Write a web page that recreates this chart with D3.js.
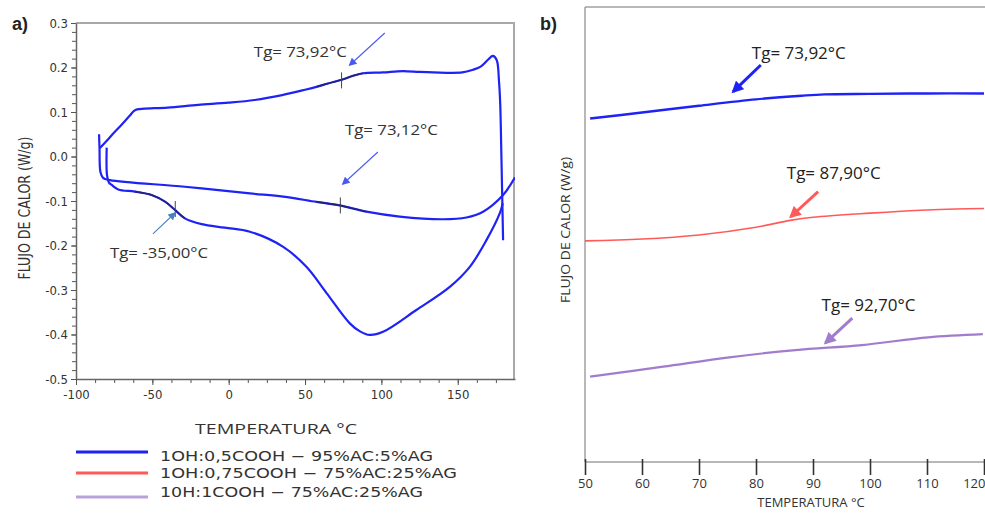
<!DOCTYPE html>
<html lang="es">
<head>
<meta charset="UTF-8">
<title>DSC - Flujo de calor</title>
<script src="https://d3js.org/d3.v7.min.js"></script>
<style>
  body { margin: 0; background: #fff; }
  svg { display: block; }
  .narrow { font-family: "Liberation Sans Narrow", "Arial Narrow", "DejaVu Sans Condensed", sans-serif; }
  .sans { font-family: "Open Sans", "DejaVu Sans", sans-serif; }
</style>
</head>
<body>
<svg id="chart" width="985" height="513"></svg>
<script>
// ---- panel a) : full DSC run (1st heating, cooling, 2nd heating) ----
const heat1T = [-79.9, -79.7, -78.5, -76.6, -72.3, -61.4, -50.5, -41.7, -35.2, -28.7, -17.7, -2.5, 13.9, 35.7, 50.9, 64.1, 79.3, 86, 92.4, 101.1, 122.9, 144.8, 157.9, 168.8, 177.5, 179.5];
const heat1Q = [0.020, -0.042, -0.058, -0.064, -0.074, -0.079, -0.0865, -0.1015, -0.120, -0.139, -0.152, -0.160, -0.169, -0.203, -0.248, -0.307, -0.375, -0.393, -0.401, -0.394, -0.345, -0.293, -0.248, -0.188, -0.128, -0.105];

const coolT = [187.5, 179.7, 166.6, 155.7, 140.4, 112, 90.2, 72.8, 57.5, 35.7, 13.9, -28.7, -77.7, -82.3, -84, -84.6, -84.9];
const coolQ = [-0.047, -0.0865, -0.124, -0.137, -0.141, -0.135, -0.124, -0.110, -0.102, -0.090, -0.083, -0.068, -0.053, -0.048, -0.035, 0.019, 0.050];

const heat2T = [-84.3, -80, -75, -70, -65, -62, -60, -55, -40, -20, 0, 17, 35, 50, 58, 65, 74.5, 82, 88, 101, 114, 125, 134, 153, 160, 165, 170, 173, 175.5, 177, 177.8, 178.6, 179.7];
const heat2Q = [0.019, 0.035, 0.054, 0.072, 0.091, 0.1025, 0.106, 0.1075, 0.110, 0.116, 0.121, 0.127, 0.138, 0.150, 0.157, 0.164, 0.173, 0.182, 0.187, 0.189, 0.192, 0.190, 0.189, 0.189, 0.195, 0.202, 0.218, 0.226, 0.217, 0.17, 0.12, 0.0, -0.188];

const xTicksA = [-100, -50, 0, 50, 100, 150];
const yTicksA = [-0.5, -0.4, -0.3, -0.2, -0.1, 0, 0.1, 0.2, 0.3];
const tgLabelsA = ["Tg= 73,92°C", "Tg= 73,12°C", "Tg= -35,00°C"];
const tgValuesA = [73.92, 73.12, -35.0];
const tgFlowA = [0.171, -0.110, -0.118];

// ---- panel b) : second heating, three formulations (offset curves) ----
const seriesNames = ["1OH:0,5COOH \u2212 95%AC:5%AG", "1OH:0,75COOH \u2212 75%AC:25%AG", "10H:1COOH \u2212 75%AC:25%AG"];
const blueT = [50.9, 60, 70, 80, 88, 92, 100, 110, 120];
const blueQ = [0.755, 0.768, 0.783, 0.797, 0.805, 0.808, 0.809, 0.810, 0.810];
const redT = [50, 60, 70, 80, 86, 90, 100, 110, 115, 120];
const redQ = [0.486, 0.490, 0.499, 0.516, 0.531, 0.538, 0.547, 0.554, 0.556, 0.557];
const purpleT = [50.9, 63.7, 75.3, 86.9, 98.6, 110.2, 119.8];
const purpleQ = [0.1875, 0.2095, 0.230, 0.246, 0.257, 0.274, 0.281];
const xTicksB = [50, 60, 70, 80, 90, 100, 110, 120];
const tgLabelsB = ["Tg= 73,92°C", "Tg= 87,90°C", "Tg= 92,70°C"];

const colors = ["#1f22f5", "#ff5a5a", "#a27ccc"];
const legendColors = ["#1f22f5", "#ff5a5a", "#b9a2dc"];

const svg = d3.select("#chart");

// arrow markers
const defs = svg.append("defs");
function marker(id, color, w, h) {
  defs.append("marker")
    .attr("id", id)
    .attr("viewBox", "0 0 10 10")
    .attr("refX", 8).attr("refY", 5)
    .attr("markerUnits", "userSpaceOnUse")
    .attr("markerWidth", w).attr("markerHeight", h)
    .attr("orient", "auto")
    .append("path")
    .attr("d", "M0,0 L10,5 L0,10 z")
    .attr("fill", color);
}
marker("arA", "#4a58f2", 9, 8);
marker("arA2", "#4a80c0", 9, 8);
marker("arB0", colors[0], 13, 12);
marker("arB1", colors[1], 13, 12);
marker("arB2", colors[2], 13, 12);

// ================= panel a =================
const xA = d3.scaleLinear().domain([-100, 187.5]).range([76, 515]);
const yA = d3.scaleLinear().domain([-0.5, 0.3]).range([379, 23]);

defs.append("clipPath").attr("id", "clipA")
  .append("rect").attr("x", 76).attr("y", 23).attr("width", 439).attr("height", 356);

// frame (top and right)
svg.append("line").attr("x1", 76).attr("x2", 515).attr("y1", 23).attr("y2", 23)
  .attr("stroke", "#a8a8a8").attr("stroke-width", 2);
svg.append("line").attr("x1", 514).attr("x2", 514).attr("y1", 23).attr("y2", 379)
  .attr("stroke", "#a8a8a8").attr("stroke-width", 2);

// minor ticks
svg.append("g").attr("transform", "translate(0,379)")
  .call(d3.axisBottom(xA).tickValues(d3.range(-100, 187.5, 12.5)).tickSize(4).tickFormat(""))
  .call(g => g.select(".domain").remove())
  .selectAll("line").attr("stroke", "#555");
svg.append("g").attr("transform", "translate(76,0)")
  .call(d3.axisLeft(yA).tickValues(d3.range(-50, 31, 2).map(v => v / 100)).tickSize(4).tickFormat(""))
  .call(g => g.select(".domain").remove())
  .selectAll("line").attr("stroke", "#555");

// major ticks + labels
const axA = svg.append("g").attr("transform", "translate(0,379)")
  .call(d3.axisBottom(xA).tickValues(xTicksA).tickSize(6).tickPadding(5).tickFormat(d => String(d)).tickSizeOuter(0));
const ayA = svg.append("g").attr("transform", "translate(76,0)")
  .call(d3.axisLeft(yA).tickValues(yTicksA).tickSize(5).tickPadding(3).tickFormat(d => d.toFixed(1)).tickSizeOuter(0));
[axA, ayA].forEach(g => {
  g.select(".domain").attr("stroke", "#666").attr("stroke-width", 1.5);
  g.selectAll(".tick line").attr("stroke", "#555");
  g.selectAll(".tick text").attr("class", "narrow").attr("font-size", 13).attr("fill", "#333");
});

const lineA = d3.line().x(d => xA(d[0])).y(d => yA(d[1])).curve(d3.curveCatmullRom.alpha(0.5));
const plotA = svg.append("g").attr("clip-path", "url(#clipA)");
const runs = [d3.zip(heat1T, heat1Q), d3.zip(coolT, coolQ), d3.zip(heat2T, heat2Q)];
runs.forEach(pts => {
  plotA.append("path").datum(pts).attr("d", lineA)
    .attr("fill", "none").attr("stroke", colors[0]).attr("stroke-width", 2.2)
    .attr("stroke-linejoin", "round");
});

// darker tangent segments around each Tg
const tgRanges = [[-62, -18], [48, 92], [52, 90]];
runs.forEach((pts, i) => {
  const r = tgRanges[i];
  const seg = pts.filter(d => d[0] >= r[0] && d[0] <= r[1]).sort((a, b) => a[0] - b[0]);
  plotA.append("path").datum(seg).attr("d", lineA)
    .attr("fill", "none").attr("stroke", "#22226a").attr("stroke-width", 1.6).attr("opacity", 0.85);
});

// Tg onset marks
tgValuesA.forEach((t, i) => {
  plotA.append("line")
    .attr("x1", xA(t)).attr("x2", xA(t))
    .attr("y1", yA(tgFlowA[i]) - 8).attr("y2", yA(tgFlowA[i]) + 8)
    .attr("stroke", "#444").attr("stroke-width", 1);
});

// annotations (anchors in data units)
const notesA = [
  { tx: 16.5, ty: 0.224, a: [102.2, 0.2775, 79.3, 0.2056], m: "arA", w: 93 },
  { tx: 76.1, ty: 0.048, a: [97.7, 0.0101, 74.8, -0.0618], m: "arA", w: 93 },
  { tx: -77.7, ty: -0.228, a: [-49.6, -0.174, -35.2, -0.127], m: "arA2", w: 98 }
];
notesA.forEach((n, i) => {
  svg.append("text").attr("class", "sans")
    .attr("x", xA(n.tx)).attr("y", yA(n.ty))
    .attr("font-size", 14).attr("fill", "#333")
    .attr("textLength", n.w).attr("lengthAdjust", "spacingAndGlyphs")
    .text(tgLabelsA[i]);
  svg.append("line")
    .attr("x1", xA(n.a[0])).attr("y1", yA(n.a[1]))
    .attr("x2", xA(n.a[2])).attr("y2", yA(n.a[3]))
    .attr("stroke", n.m === "arA" ? "#4a58f2" : "#4a80c0").attr("stroke-width", 1.1)
    .attr("marker-end", "url(#" + n.m + ")");
});

// labels
svg.append("text").attr("x", 12).attr("y", 30)
  .attr("font-family", "Liberation Sans, Arial, sans-serif").attr("font-weight", "bold")
  .attr("font-size", 18).attr("fill", "#222").text("a)");
svg.append("text").attr("class", "narrow")
  .attr("transform", "translate(30,208) rotate(-90)")
  .attr("text-anchor", "middle").attr("font-size", 16).attr("fill", "#333")
  .attr("textLength", 143).attr("lengthAdjust", "spacingAndGlyphs")
  .text("FLUJO DE CALOR (W/g)");
svg.append("text").attr("class", "sans")
  .attr("x", 276).attr("y", 434).attr("text-anchor", "middle")
  .attr("font-size", 15).attr("fill", "#333")
  .attr("textLength", 162).attr("lengthAdjust", "spacingAndGlyphs")
  .text("TEMPERATURA °C");

// legend
const legY = [452, 473, 497];
const legTextY = [461, 478, 497];
const legW = [273, 297, 263];
seriesNames.forEach((s, i) => {
  svg.append("line").attr("x1", 76).attr("x2", 148).attr("y1", legY[i]).attr("y2", legY[i])
    .attr("stroke", legendColors[i]).attr("stroke-width", 3);
  svg.append("text").attr("x", 160).attr("y", legTextY[i])
    .attr("font-family", "DejaVu Sans, sans-serif").attr("font-size", 14).attr("fill", "#333")
    .attr("textLength", legW[i]).attr("lengthAdjust", "spacingAndGlyphs")
    .text(s);
});

// ================= panel b =================
const xB = d3.scaleLinear().domain([50, 120]).range([585, 984]);
const yB = d3.scaleLinear().domain([0, 1]).range([462, 7]);

svg.append("line").attr("x1", 585).attr("x2", 985).attr("y1", 7).attr("y2", 7)
  .attr("stroke", "#a0a0a0").attr("stroke-width", 1.5);
svg.append("line").attr("x1", 585).attr("x2", 585).attr("y1", 7).attr("y2", 462)
  .attr("stroke", "#a0a0a0").attr("stroke-width", 1.5);

const axB = svg.append("g").attr("transform", "translate(0,462)")
  .call(d3.axisBottom(xB).tickValues(xTicksB).tickSize(13).tickPadding(4).tickSizeOuter(0));
axB.select(".domain").attr("stroke", "#a0a0a0").attr("stroke-width", 1.5).attr("d", "M585,0H985");
axB.selectAll(".tick line").attr("y1", -3).attr("stroke", "#333").attr("stroke-width", 1.6);
axB.selectAll(".tick text").attr("class", "sans").attr("font-size", 13).attr("fill", "#333")
  .filter(d => d === 120).attr("text-anchor", "end").attr("x", 1);

const lineB = d3.line().x(d => xB(d[0])).y(d => yB(d[1])).curve(d3.curveCatmullRom.alpha(0.5));
const seriesB = [d3.zip(blueT, blueQ), d3.zip(redT, redQ), d3.zip(purpleT, purpleQ)];
const widthsB = [2.4, 1.6, 2.2];
seriesB.forEach((pts, i) => {
  svg.append("path").datum(pts).attr("d", lineB)
    .attr("fill", "none").attr("stroke", colors[i]).attr("stroke-width", widthsB[i]);
});

const notesB = [
  { tx: 79.27, ty: 0.886, a: [80.84, 0.8725, 76.0, 0.814] },
  { tx: 85.4, ty: 0.622, a: [90.9, 0.594, 86.1, 0.539] },
  { tx: 91.5, ty: 0.332, a: [96.9, 0.316, 92.2, 0.262] }
];
notesB.forEach((n, i) => {
  svg.append("text").attr("class", "sans")
    .attr("x", xB(n.tx)).attr("y", yB(n.ty))
    .attr("font-size", 16).attr("fill", "#222")
    .attr("textLength", 94).attr("lengthAdjust", "spacingAndGlyphs")
    .text(tgLabelsB[i]);
  svg.append("line")
    .attr("x1", xB(n.a[0])).attr("y1", yB(n.a[1]))
    .attr("x2", xB(n.a[2])).attr("y2", yB(n.a[3]))
    .attr("stroke", colors[i]).attr("stroke-width", 3)
    .attr("marker-end", "url(#arB" + i + ")");
});

svg.append("text").attr("x", 540).attr("y", 30)
  .attr("font-family", "Liberation Sans, Arial, sans-serif").attr("font-weight", "bold")
  .attr("font-size", 18).attr("fill", "#222").text("b)");
svg.append("text").attr("class", "sans")
  .attr("transform", "translate(570,230) rotate(-90)")
  .attr("text-anchor", "middle").attr("font-size", 13).attr("fill", "#333")
  .attr("textLength", 146).attr("lengthAdjust", "spacingAndGlyphs")
  .text("FLUJO DE CALOR (W/g)");
svg.append("text").attr("class", "sans")
  .attr("x", 811).attr("y", 507).attr("text-anchor", "middle")
  .attr("font-size", 13).attr("fill", "#333")
  .text("TEMPERATURA °C");
</script>
</body>
</html>
